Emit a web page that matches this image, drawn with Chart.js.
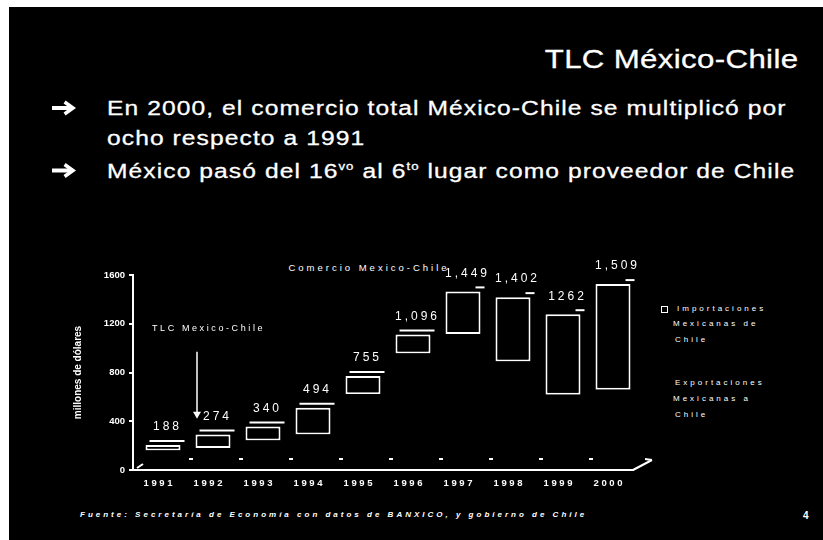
<!DOCTYPE html>
<html>
<head>
<meta charset="utf-8">
<script src="https://cdn.jsdelivr.net/npm/chart.js@4.4.0/dist/chart.umd.min.js"></script>
<style>
  html, body { margin: 0; padding: 0; background: #fff; width: 823px; height: 540px; overflow: hidden; }
  #slide { position: absolute; left: 9px; top: 7px; width: 814px; height: 533px; background: #000; }
  .t { position: absolute; color: #fff; font-family: "Liberation Sans", Arial, sans-serif; white-space: nowrap; line-height: 1; }
  .big { font-size: 20.5px; letter-spacing: 0.9px; transform: scaleX(1.2); transform-origin: 0 0; left: 107px; -webkit-text-stroke: 0.3px #fff; }
  .big sup { font-size: 11px; vertical-align: 8px; line-height: 0; }
  .tiny { font-size: 8px; letter-spacing: 3px; }
  #chart { position: absolute; left: 0; top: 0; }
</style>
</head>
<body>
<div id="slide"></div>

<div class="t" style="font-size:26px; right:25px; top:46px; letter-spacing:0.3px; transform:scaleX(1.2); transform-origin:100% 0; -webkit-text-stroke:0.3px #fff;">TLC México-Chile</div>

<svg style="position:absolute;left:0;top:0" width="823" height="540">
  <g stroke="#fff" fill="none" stroke-linecap="square">
    <line x1="54" y1="108" x2="71" y2="108" stroke-width="4"/>
    <polyline points="66,103 73,108 66,113" stroke-width="3.5"/>
    <line x1="54" y1="170.5" x2="71" y2="170.5" stroke-width="4"/>
    <polyline points="66,165.5 73,170.5 66,175.5" stroke-width="3.5"/>
  </g>
</svg>

<div class="t big" style="top:98px;">En 2000, el comercio total México-Chile se multiplicó por</div>
<div class="t big" style="top:127.5px;">ocho respecto a 1991</div>
<div class="t big" style="top:161px;">México pasó del 16<sup>vo</sup> al 6<sup>to</sup> lugar como proveedor de Chile</div>

<div class="t" style="font-size:9.5px; letter-spacing:3px; left:269px; width:200px; text-align:center; top:263px;">Comercio Mexico-Chile</div>

<div style="position:absolute; left:661px; top:306px; width:5px; height:5px; border:1.5px solid #fff;"></div>
<div class="t tiny" style="left:677px; top:305px;">Importaciones</div>
<div class="t tiny" style="left:673px; top:320px;">Mexicanas de</div>
<div class="t tiny" style="left:675px; top:336px;">Chile</div>
<div class="t tiny" style="left:675px; top:379px;">Exportaciones</div>
<div class="t tiny" style="left:673px; top:395px;">Mexicanas a</div>
<div class="t tiny" style="left:675px; top:411px;">Chile</div>

<div class="t tiny" style="left:80px; top:511px; font-weight:bold; font-style:italic;">Fuente: Secretaría de Economía con datos de BANXICO, y gobierno de Chile</div>
<div class="t" style="left:803px; top:511px; font-size:10px; font-weight:bold;">4</div>

<canvas id="chart" width="823" height="540"></canvas>

<script>
// data (millones de dólares)
const years = ["1991", "1992", "1993", "1994", "1995", "1996", "1997", "1998", "1999", "2000"];
const exportaciones = [143, 165, 225, 275, 605, 940, 1099, 874, 601, 643];
const importaciones = [45, 109, 115, 219, 150, 156, 350, 528, 661, 866];
const totalLabels = ["188", "274", "340", "494", "755", "1,096", "1,449", "1,402", "1262", "1,509"];
const yTicks = [0, 400, 800, 1200, 1600];

// "TLC Mexico-Chile" note (category index and values on the y scale)
const noteText = "TLC Mexico-Chile";
const noteCat = 1;
const noteTextValue = 1165;
const noteArrowFrom = 970;
const noteArrowTo = 420;

const FONT = '"Liberation Sans", Arial, sans-serif';
Chart.defaults.font.family = FONT;
Chart.defaults.color = "#fff";

const slideDecor = {
  id: "slideDecor",
  beforeDatasetsDraw(chart) {
    // bars sit a bit right and up of the category (3d depth)
    chart.ctx.save();
    chart.ctx.translate(5, -2);
  },
  afterDatasetsDraw(chart) {
    const ctx = chart.ctx;
    const bars = chart.getDatasetMeta(1).data;
    ctx.strokeStyle = "#fff";
    ctx.lineWidth = 2;
    bars.forEach((bar, i) => {
      const left = bar.x - bar.width / 2;
      const right = bar.x + bar.width / 2;
      ctx.beginPath();
      if (i < 6) {
        ctx.moveTo(left + 4, bar.y - 4);
      } else {
        // top edge of the tall boxes barely shows in the scan
        ctx.moveTo(right - 5, bar.y - 4);
      }
      ctx.lineTo(right + 4, bar.y - 4);
      ctx.stroke();
    });
    ctx.fillStyle = "#fff";
    ctx.font = "12px " + FONT;
    ctx.letterSpacing = "3px";
    ctx.textAlign = "center";
    ctx.textBaseline = "middle";
    bars.forEach((bar, i) => {
      ctx.fillText(totalLabels[i], bar.x + 4.5, bar.y - 18);
    });
    ctx.restore();
  },
  afterDraw(chart) {
    const ctx = chart.ctx;
    const area = chart.chartArea;
    const xs = chart.scales.x;
    const ys = chart.scales.y;
    ctx.save();
    ctx.strokeStyle = "#fff";
    ctx.fillStyle = "#fff";
    ctx.lineWidth = 2;
    // floor edge
    ctx.beginPath();
    ctx.moveTo(area.right, area.bottom);
    ctx.lineTo(area.right + 19, area.bottom - 10);
    ctx.moveTo(area.right + 12, area.bottom - 11);
    ctx.lineTo(area.right + 19, area.bottom - 10);
    ctx.moveTo(area.left + 4, area.bottom - 2);
    ctx.lineTo(area.left + 10, area.bottom - 6);
    ctx.stroke();
    // back floor marks between categories
    for (let i = 0; i < years.length - 1; i++) {
      const bx = (xs.getPixelForValue(i) + xs.getPixelForValue(i + 1)) / 2 + 8;
      ctx.beginPath();
      ctx.moveTo(bx - 2, area.bottom - 11);
      ctx.lineTo(bx + 2, area.bottom - 11);
      ctx.stroke();
    }
    // note + arrow
    const ax = xs.getPixelForValue(noteCat) - 11;
    ctx.font = "9px " + FONT;
    ctx.letterSpacing = "2.6px";
    ctx.textAlign = "left";
    ctx.textBaseline = "middle";
    ctx.fillText(noteText, xs.getPixelForValue(0) - 6, ys.getPixelForValue(noteTextValue));
    const y1 = ys.getPixelForValue(noteArrowFrom);
    const y2 = ys.getPixelForValue(noteArrowTo);
    ctx.lineWidth = 1.5;
    ctx.beginPath();
    ctx.moveTo(ax, y1);
    ctx.lineTo(ax, y2 - 6);
    ctx.stroke();
    ctx.beginPath();
    ctx.moveTo(ax - 4, y2 - 7);
    ctx.lineTo(ax + 4, y2 - 7);
    ctx.lineTo(ax, y2);
    ctx.closePath();
    ctx.fill();
    ctx.restore();
  }
};

new Chart(document.getElementById("chart"), {
  type: "bar",
  data: {
    labels: years,
    datasets: [
      {
        label: "Exportaciones Mexicanas a Chile",
        data: exportaciones,
        backgroundColor: "#000",
        borderWidth: 0,
        stack: "comercio"
      },
      {
        label: "Importaciones Mexicanas de Chile",
        data: importaciones,
        backgroundColor: "#000",
        borderColor: "#fff",
        borderWidth: 2,
        borderSkipped: false,
        stack: "comercio"
      }
    ]
  },
  options: {
    responsive: false,
    animation: false,
    devicePixelRatio: 1,
    barPercentage: 0.7,
    categoryPercentage: 1,
    layout: { padding: { left: 60, top: 275, right: 190, bottom: 40 } },
    plugins: { legend: { display: false }, tooltip: { enabled: false } },
    scales: {
      x: {
        stacked: true,
        grid: { display: false, drawTicks: false },
        border: { display: true, color: "#fff", width: 2 },
        ticks: {
          color: "#fff",
          font: { size: 9.5, weight: "bold" },
          padding: 8,
          maxRotation: 0,
          callback: (v, i) => years[i].split("").join(" ")
        },
        afterFit: (s) => { s.height = 30; }
      },
      y: {
        stacked: true,
        min: 0,
        max: 1600,
        afterBuildTicks: (s) => { s.ticks = yTicks.map((v) => ({ value: v })); },
        grid: { drawOnChartArea: false, drawTicks: true, tickLength: 4, color: "#fff", lineWidth: 2 },
        border: { display: true, color: "#fff", width: 2 },
        ticks: {
          color: "#fff",
          font: { size: 9.5, weight: "bold" },
          padding: 4,
          callback: (v) => String(v)
        },
        title: {
          display: true,
          text: "millones de dólares",
          color: "#fff",
          font: { size: 10, weight: "bold" },
          padding: { top: 12, bottom: 0 }
        },
        afterFit: (s) => { s.width = 73; }
      }
    }
  },
  plugins: [slideDecor]
});
</script>
</body>
</html>
